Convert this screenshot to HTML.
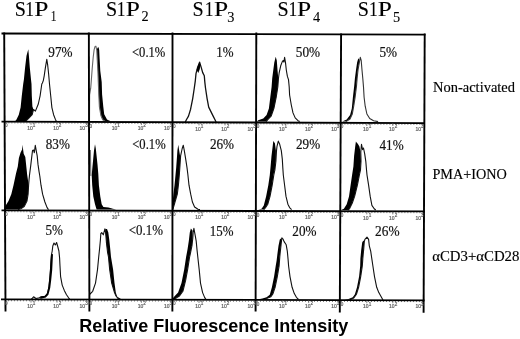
<!DOCTYPE html>
<html><head><meta charset="utf-8"><style>
html,body{margin:0;padding:0;background:#fff;}
svg{display:block;filter:grayscale(1);}
.g{font-family:"Liberation Serif",serif;fill:#000;stroke:#000;stroke-width:0.12px;}
.pc{font-family:"Liberation Serif",serif;fill:#111;stroke:#111;stroke-width:0.2px;}
.rl{font-family:"Liberation Serif",serif;font-size:14px;fill:#000;stroke:#000;stroke-width:0.15px;}
.tt{font-family:"Liberation Sans",sans-serif;font-weight:bold;font-size:18.2px;fill:#000;}
.tk{font-family:"Liberation Sans",sans-serif;font-size:5px;fill:#555;stroke:#666;stroke-width:0.2px;}
</style></head><body>
<svg width="520" height="339" viewBox="0 0 520 339">
<polygon points="14.7,121.7 16.5,119.4 18.8,114.7 20.6,107.6 21.8,95.8 23.2,84.0 23.9,79.4 25.1,67.6 26.5,55.8 28.3,49.3 28.9,55.8 29.8,67.6 31.0,79.4 31.5,84.0 31.8,95.8 32.4,106.4 33.5,109.5 32.2,114.7 28.9,118.2 26.5,120.6 25.3,121.7" fill="#000"/>
<polygon points="25.3,121.7 28.9,118.2 32.2,114.7 33.5,109.5 35.4,111.1 38.3,104.0 40.1,95.8 41.8,84.0 42.4,83.0 43.3,80.6 44.2,75.8 45.4,67.6 46.8,59.3 47.7,65.2 48.7,74.7 49.5,84.0 50.7,95.8 51.9,107.6 53.6,114.7 55.4,119.4 56.6,121.7" fill="#fff" stroke="none"/>
<polyline points="25.3,121.7 28.9,118.2 32.2,114.7 33.5,109.5 35.4,111.1 38.3,104.0 40.1,95.8 41.8,84.0 42.4,83.0 43.3,80.6 44.2,75.8 45.4,67.6 46.8,59.3 47.7,65.2 48.7,74.7 49.5,84.0 50.7,95.8 51.9,107.6 53.6,114.7 55.4,119.4 56.6,121.7" fill="none" stroke="#111" stroke-width="1.1" stroke-linejoin="round"/>
<polygon points="96.5,50.0 97.8,47.4 98.6,47.2 99.2,50.0 99.6,58.6 100.3,71.0 101.7,82.0 102.1,94.4 103.3,106.8 104.2,114.2 107.0,119.4 109.0,120.6 111.0,121.3 100.0,121.3 97.0,110.0 96.5,60.0" fill="#000"/>
<polygon points="89.5,121.3 89.6,95.0 90.7,88.2 91.2,82.0 92.2,68.5 93.2,57.3 94.1,49.9 94.9,46.8 95.9,46.2 96.8,50.5 97.2,58.6 97.9,71.0 98.3,82.0 98.8,94.4 99.4,106.8 100.9,115.5 102.7,119.8 105.0,121.3" fill="#fff" stroke="none"/>
<polyline points="89.5,121.3 89.6,95.0 90.7,88.2 91.2,82.0 92.2,68.5 93.2,57.3 94.1,49.9 94.9,46.8 95.9,46.2 96.8,50.5 97.2,58.6 97.9,71.0 98.3,82.0 98.8,94.4 99.4,106.8 100.9,115.5 102.7,119.8 105.0,121.3" fill="none" stroke="#666" stroke-width="1.1" stroke-linejoin="round"/>
<polygon points="185.3,122.0 186.4,119.8 188.5,116.1 190.6,109.2 192.7,98.6 194.3,88.0 195.3,80.8 196.0,73.6 197.6,67.4 199.6,62.2 201.2,67.4 202.7,72.6 204.3,75.7 204.8,81.9 205.5,88.0 207.1,98.6 208.7,107.1 210.8,111.4 212.9,115.6 215.0,119.8 216.1,122.0" fill="#fff" stroke="none"/>
<polyline points="185.3,122.0 186.4,119.8 188.5,116.1 190.6,109.2 192.7,98.6 194.3,88.0 195.3,80.8 196.0,73.6 197.6,67.4 199.6,62.2 201.2,67.4 202.7,72.6 204.3,75.7 204.8,81.9 205.5,88.0 207.1,98.6 208.7,107.1 210.8,111.4 212.9,115.6 215.0,119.8 216.1,122.0" fill="none" stroke="#111" stroke-width="1.3" stroke-linejoin="round"/>
<polygon points="196.6,70.0 197.8,66.0 199.4,62.5 200.4,64.5 199.8,69.0 198.3,73.0" fill="#000"/>
<polygon points="256.6,121.6 258.2,120.2 263.3,118.5 266.6,115.1 268.9,108.4 270.3,97.2 271.6,87.0 272.2,78.5 273.3,70.0 274.3,62.6 275.7,56.8 276.8,60.5 277.5,70.0 278.3,78.5 278.6,87.0 278.0,95.0 276.5,100.0 274.0,110.0 270.0,118.0 266.0,121.6" fill="#000"/>
<polygon points="266.1,121.6 267.8,119.6 271.1,116.2 273.9,108.4 276.2,97.2 277.8,87.0 278.5,78.0 279.1,73.2 280.7,65.8 282.3,61.6 283.1,60.5 283.9,62.1 284.6,57.3 285.5,62.6 286.3,70.0 287.4,76.4 288.5,79.6 288.9,83.8 289.2,87.0 289.6,95.0 291.3,105.0 293.0,112.9 295.2,117.9 298.0,120.7 299.7,121.6" fill="#fff" stroke="none"/>
<polyline points="266.1,121.6 267.8,119.6 271.1,116.2 273.9,108.4 276.2,97.2 277.8,87.0 278.5,78.0 279.1,73.2 280.7,65.8 282.3,61.6 283.1,60.5 283.9,62.1 284.6,57.3 285.5,62.6 286.3,70.0 287.4,76.4 288.5,79.6 288.9,83.8 289.2,87.0 289.6,95.0 291.3,105.0 293.0,112.9 295.2,117.9 298.0,120.7 299.7,121.6" fill="none" stroke="#111" stroke-width="1.1" stroke-linejoin="round"/>
<polygon points="342.2,121.6 346.7,119.6 350.1,115.1 351.8,108.4 352.9,97.2 354.2,86.0 354.9,78.5 356.0,70.0 357.1,62.6 358.3,58.2 359.5,60.0 359.3,62.6 358.0,70.0 357.1,78.5 356.5,86.0 355.1,97.2 353.7,106.2 352.3,114.0 350.0,119.0 346.0,121.6" fill="#000"/>
<polygon points="346.0,121.6 350.0,119.0 352.3,114.0 353.7,106.2 355.1,97.2 356.5,86.0 357.1,78.5 358.0,70.0 359.3,62.6 360.3,57.3 361.2,60.5 362.0,70.0 362.8,78.5 363.5,87.0 364.1,97.2 365.2,106.2 366.9,114.0 369.7,118.5 373.6,120.7 378.1,121.6" fill="#fff" stroke="none"/>
<polyline points="346.0,121.6 350.0,119.0 352.3,114.0 353.7,106.2 355.1,97.2 356.5,86.0 357.1,78.5 358.0,70.0 359.3,62.6 360.3,57.3 361.2,60.5 362.0,70.0 362.8,78.5 363.5,87.0 364.1,97.2 365.2,106.2 366.9,114.0 369.7,118.5 373.6,120.7 378.1,121.6" fill="none" stroke="#333" stroke-width="1.1" stroke-linejoin="round"/>
<polygon points="4.6,209.6 4.6,207.6 5.7,205.4 8.5,200.9 11.3,194.2 13.5,185.2 16.0,173.5 17.8,166.6 18.9,158.1 20.5,152.8 22.1,149.6 22.6,144.8 23.1,149.6 23.7,153.8 25.3,157.0 26.3,166.6 27.2,175.0 28.4,183.0 28.6,185.2 28.1,194.2 27.0,200.9 24.2,206.5 20.8,208.7 18.0,209.6" fill="#000"/>
<polygon points="18.0,209.6 20.8,208.7 24.2,206.5 27.0,200.9 28.1,194.2 28.6,185.2 29.0,180.0 29.5,175.1 30.6,166.6 31.6,158.1 32.5,150.6 33.5,150.1 34.3,152.8 35.3,145.3 36.4,151.7 37.2,155.9 38.0,164.4 39.1,171.9 39.8,176.0 41.0,185.2 42.6,194.2 44.9,202.0 47.1,207.6 48.5,209.6" fill="#fff" stroke="none"/>
<polyline points="18.0,209.6 20.8,208.7 24.2,206.5 27.0,200.9 28.1,194.2 28.6,185.2 29.0,180.0 29.5,175.1 30.6,166.6 31.6,158.1 32.5,150.6 33.5,150.1 34.3,152.8 35.3,145.3 36.4,151.7 37.2,155.9 38.0,164.4 39.1,171.9 39.8,176.0 41.0,185.2 42.6,194.2 44.9,202.0 47.1,207.6 48.5,209.6" fill="none" stroke="#111" stroke-width="1.1" stroke-linejoin="round"/>
<polygon points="96.6,209.6 95.0,204.2 93.3,196.4 92.2,185.2 91.7,175.0 92.4,167.6 93.2,159.1 94.0,150.6 95.0,144.3 95.8,148.5 96.6,155.9 97.5,164.4 98.3,174.0 98.9,185.2 100.3,196.4 101.7,204.2 103.4,207.0 108.4,207.6 112.9,208.7 116.2,209.6" fill="#000"/>
<polyline points="90.4,150.0 90.6,165.0 90.9,176.0" fill="none" stroke="#777" stroke-width="1.2"/>
<polygon points="172.5,209.6 172.5,203.1 173.4,194.2 174.5,185.2 175.5,175.0 176.2,167.6 176.9,158.1 177.4,150.6 178.3,144.8 179.0,149.6 180.1,155.9 180.6,161.3 180.1,167.6 179.6,175.0 178.4,185.2 177.3,194.2 175.0,202.0 173.4,207.6" fill="#000"/>
<polygon points="173.0,209.6 173.4,207.6 175.0,202.0 177.3,194.2 178.4,185.2 179.3,175.0 180.0,165.0 180.6,155.9 182.2,148.5 183.3,145.3 184.3,150.6 185.7,159.1 187.0,167.6 187.8,174.0 189.0,185.2 190.7,194.2 192.4,202.0 194.6,207.0 198.0,209.3 200.0,209.6" fill="#fff" stroke="none"/>
<polyline points="173.0,209.6 173.4,207.6 175.0,202.0 177.3,194.2 178.4,185.2 179.3,175.0 180.0,165.0 180.6,155.9 182.2,148.5 183.3,145.3 184.3,150.6 185.7,159.1 187.0,167.6 187.8,174.0 189.0,185.2 190.7,194.2 192.4,202.0 194.6,207.0 198.0,209.3 200.0,209.6" fill="none" stroke="#111" stroke-width="1.1" stroke-linejoin="round"/>
<polygon points="258.2,209.6 261.6,208.7 263.8,205.4 266.1,196.4 268.3,185.2 269.8,175.0 270.6,166.6 271.5,155.9 272.8,145.3 273.3,141.1 274.9,143.2 275.9,150.6 275.9,161.3 274.9,169.8 273.7,174.0 272.2,185.2 270.0,196.4 267.8,204.2 265.5,207.6 263.8,209.6" fill="#000"/>
<polygon points="263.8,209.6 265.5,207.6 267.8,204.2 270.0,196.4 272.2,185.2 273.8,175.0 274.9,169.8 275.9,161.3 276.5,150.6 277.0,146.4 278.3,141.1 279.7,144.3 281.3,150.6 282.3,159.1 282.8,167.6 283.3,175.0 284.6,185.2 286.0,196.4 287.9,204.2 289.6,207.6 291.6,209.6" fill="#fff" stroke="none"/>
<polyline points="263.8,209.6 265.5,207.6 267.8,204.2 270.0,196.4 272.2,185.2 273.8,175.0 274.9,169.8 275.9,161.3 276.5,150.6 277.0,146.4 278.3,141.1 279.7,144.3 281.3,150.6 282.3,159.1 282.8,167.6 283.3,175.0 284.6,185.2 286.0,196.4 287.9,204.2 289.6,207.6 291.6,209.6" fill="none" stroke="#111" stroke-width="1.1" stroke-linejoin="round"/>
<polygon points="341.1,210.0 343.9,208.7 346.7,204.2 349.0,196.4 350.6,185.2 352.1,175.0 353.4,166.6 354.1,155.9 355.2,146.4 355.9,141.6 357.0,143.0 357.8,143.7 359.4,146.4 360.5,151.7 361.0,161.3 360.5,169.8 359.5,174.5 357.4,185.2 354.6,196.4 352.3,203.1 349.5,208.7 347.8,210.0" fill="#000"/>
<polygon points="347.8,210.0 349.5,208.7 352.3,203.1 354.6,196.4 357.4,185.2 359.5,174.5 360.5,169.8 361.0,161.3 360.8,152.0 361.5,144.3 362.6,149.6 363.5,148.0 364.7,153.8 365.8,161.3 366.5,169.8 367.0,175.0 368.6,185.2 370.2,196.4 371.9,205.4 374.2,208.7 375.8,210.0" fill="#fff" stroke="none"/>
<polyline points="347.8,210.0 349.5,208.7 352.3,203.1 354.6,196.4 357.4,185.2 359.5,174.5 360.5,169.8 361.0,161.3 360.8,152.0 361.5,144.3 362.6,149.6 363.5,148.0 364.7,153.8 365.8,161.3 366.5,169.8 367.0,175.0 368.6,185.2 370.2,196.4 371.9,205.4 374.2,208.7 375.8,210.0" fill="none" stroke="#111" stroke-width="1.1" stroke-linejoin="round"/>
<polygon points="31.0,299.6 33.6,296.8 36.0,298.5 39.4,297.8 41.0,296.8 45.2,296.3 47.4,293.6 48.9,287.2 50.0,276.6 50.7,266.0 51.0,261.0 51.5,254.5 52.2,251.0 52.8,246.0 54.0,243.0 55.3,245.0 56.6,242.5 57.6,246.0 58.9,251.0 59.6,258.0 60.0,266.0 60.6,276.6 62.2,285.1 64.3,290.4 66.5,294.7 68.6,297.8 70.0,299.6" fill="#fff" stroke="none"/>
<polyline points="31.0,299.6 33.6,296.8 36.0,298.5 39.4,297.8 41.0,296.8 45.2,296.3 47.4,293.6 48.9,287.2 50.0,276.6 50.7,266.0 51.0,261.0 51.5,254.5 52.2,251.0 52.8,246.0 54.0,243.0 55.3,245.0 56.6,242.5 57.6,246.0 58.9,251.0 59.6,258.0 60.0,266.0 60.6,276.6 62.2,285.1 64.3,290.4 66.5,294.7 68.6,297.8 70.0,299.6" fill="none" stroke="#111" stroke-width="1.1" stroke-linejoin="round"/>
<polygon points="50.0,270.0 50.6,260.0 51.0,254.5 53.0,254.0 52.6,262.0 52.2,270.0 51.2,280.0 50.2,288.0 48.4,294.8 45.8,297.4 41.0,298.8 39.6,298.2 41.0,296.4 45.0,295.8 47.0,293.2 48.4,287.0 49.4,277.0" fill="#000"/>
<polygon points="104.5,232.0 105.5,229.0 107.0,228.9 108.3,232.6 109.3,240.0 110.2,248.6 111.0,257.0 113.1,269.6 114.5,283.1 115.8,292.6 117.2,296.7 120.6,298.7 122.0,299.7 115.0,299.7 110.0,290.0 107.0,260.0 105.5,240.0" fill="#000"/>
<polygon points="89.5,299.7 89.5,295.0 90.0,294.0 92.7,291.3 95.5,283.1 97.5,269.6 98.7,257.0 99.6,248.6 100.4,240.0 100.8,233.7 101.7,232.6 103.3,234.8 104.9,228.9 105.5,232.0 105.9,235.8 106.5,243.3 107.5,251.8 108.5,257.0 109.7,269.6 111.7,283.1 114.5,292.6 116.0,296.0 118.0,298.5 119.0,299.7" fill="#fff" stroke="none"/>
<polyline points="89.5,299.7 89.5,295.0 90.0,294.0 92.7,291.3 95.5,283.1 97.5,269.6 98.7,257.0 99.6,248.6 100.4,240.0 100.8,233.7 101.7,232.6 103.3,234.8 104.9,228.9 105.5,232.0 105.9,235.8 106.5,243.3 107.5,251.8 108.5,257.0 109.7,269.6 111.7,283.1 114.5,292.6 116.0,296.0 118.0,298.5 119.0,299.7" fill="none" stroke="#111" stroke-width="1.1" stroke-linejoin="round"/>
<polygon points="172.4,299.6 172.4,298.7 174.1,296.7 178.1,292.6 181.5,283.1 184.2,269.6 186.1,257.0 187.5,249.6 188.8,241.1 189.8,232.6 190.9,228.4 192.5,230.5 192.8,238.0 192.0,245.4 190.3,253.9 189.6,257.0 187.6,269.6 185.6,280.4 182.9,291.3 179.5,296.0 176.1,298.0 175.0,299.6" fill="#000"/>
<polygon points="175.0,299.6 176.1,298.0 179.5,296.0 182.9,291.3 185.6,280.4 187.6,269.6 189.6,257.0 190.3,253.9 192.0,245.4 192.8,238.0 193.2,232.0 193.9,228.4 195.1,234.8 196.2,241.1 197.0,249.6 197.8,257.0 199.2,269.6 200.5,283.1 202.6,292.6 204.6,297.4 206.0,299.6" fill="#fff" stroke="none"/>
<polyline points="175.0,299.6 176.1,298.0 179.5,296.0 182.9,291.3 185.6,280.4 187.6,269.6 189.6,257.0 190.3,253.9 192.0,245.4 192.8,238.0 193.2,232.0 193.9,228.4 195.1,234.8 196.2,241.1 197.0,249.6 197.8,257.0 199.2,269.6 200.5,283.1 202.6,292.6 204.6,297.4 206.0,299.6" fill="none" stroke="#111" stroke-width="1.1" stroke-linejoin="round"/>
<polygon points="257.6,299.6 262.4,298.4 266.6,297.3 269.8,294.7 271.9,287.3 274.1,276.6 275.7,266.0 276.6,260.7 277.5,253.3 278.5,245.8 279.8,239.4 281.9,237.8 281.4,241.6 280.7,248.0 279.8,256.4 279.1,266.0 277.3,276.6 275.1,287.3 273.0,293.6 270.9,296.8 267.7,298.1 265.0,299.6" fill="#000"/>
<polygon points="265.0,299.6 267.7,298.1 270.9,296.8 273.0,293.6 275.1,287.3 277.3,276.6 279.1,266.0 279.8,256.4 280.7,248.0 281.4,241.6 281.9,237.8 283.0,239.0 284.1,241.6 286.2,244.8 287.3,251.1 288.1,259.6 288.6,266.0 290.0,276.6 292.1,287.3 294.3,293.6 296.4,297.3 298.5,299.4" fill="#fff" stroke="none"/>
<polyline points="265.0,299.6 267.7,298.1 270.9,296.8 273.0,293.6 275.1,287.3 277.3,276.6 279.1,266.0 279.8,256.4 280.7,248.0 281.4,241.6 281.9,237.8 283.0,239.0 284.1,241.6 286.2,244.8 287.3,251.1 288.1,259.6 288.6,266.0 290.0,276.6 292.1,287.3 294.3,293.6 296.4,297.3 298.5,299.4" fill="none" stroke="#111" stroke-width="1.1" stroke-linejoin="round"/>
<polygon points="344.3,299.8 348.5,298.9 352.8,297.3 354.9,294.2 357.0,287.3 359.1,276.6 360.2,266.0 360.4,258.6 361.2,250.1 362.2,242.6 363.3,240.5 364.3,241.6 363.6,250.1 362.8,258.6 362.3,266.0 360.7,276.6 358.6,287.3 356.5,294.2 353.8,297.9 350.0,299.8" fill="#000"/>
<polygon points="350.0,299.8 353.8,297.9 356.5,294.2 358.6,287.3 360.7,276.6 362.3,266.0 362.8,258.6 363.6,250.1 364.3,241.6 364.9,239.4 367.0,237.1 368.6,239.4 369.3,245.8 370.7,251.1 371.8,258.6 372.9,266.0 374.5,276.6 376.7,287.3 378.8,292.6 380.9,296.3 383.0,300.0" fill="#fff" stroke="none"/>
<polyline points="350.0,299.8 353.8,297.9 356.5,294.2 358.6,287.3 360.7,276.6 362.3,266.0 362.8,258.6 363.6,250.1 364.3,241.6 364.9,239.4 367.0,237.1 368.6,239.4 369.3,245.8 370.7,251.1 371.8,258.6 372.9,266.0 374.5,276.6 376.7,287.3 378.8,292.6 380.9,296.3 383.0,300.0" fill="none" stroke="#111" stroke-width="1.1" stroke-linejoin="round"/>
<line x1="5.5" y1="122.89999999999999" x2="425" y2="124.39999999999999" stroke="#555" stroke-width="1" stroke-dasharray="0.8 2.2"/>
<line x1="5.5" y1="211.70000000000002" x2="425" y2="212.70000000000002" stroke="#555" stroke-width="1" stroke-dasharray="0.8 2.2"/>
<line x1="5.0" y1="300.7" x2="424.5" y2="301.6" stroke="#555" stroke-width="1" stroke-dasharray="0.8 2.2"/>
<line x1="1.5" y1="33.5" x2="425.5" y2="34.6" stroke="#000" stroke-width="1.8"/>
<line x1="1.5" y1="121.6" x2="425" y2="123.1" stroke="#000" stroke-width="1.8"/>
<line x1="1.5" y1="210.4" x2="425" y2="211.4" stroke="#000" stroke-width="1.8"/>
<line x1="1.0" y1="299.4" x2="424.5" y2="300.3" stroke="#000" stroke-width="1.8"/>
<line x1="4.2" y1="32.6" x2="5.5" y2="311.5" stroke="#000" stroke-width="1.9"/>
<line x1="88.85" y1="32.6" x2="89.4" y2="311.5" stroke="#000" stroke-width="1.9"/>
<line x1="172.5" y1="32.6" x2="172.4" y2="311.5" stroke="#000" stroke-width="1.9"/>
<line x1="256.3" y1="32.6" x2="255.6" y2="311.5" stroke="#000" stroke-width="1.9"/>
<line x1="341.1" y1="33.6" x2="339.8" y2="312.5" stroke="#000" stroke-width="1.9"/>
<line x1="424.7" y1="33.6" x2="423.6" y2="312.8" stroke="#000" stroke-width="1.9"/>
<text x="5.0" y="127.2" class="tk" style="font-size:4.6px">0</text>
<line x1="31.0" y1="122.1" x2="31.0" y2="124.8" stroke="#666" stroke-width="0.8"/>
<text x="27.3" y="129.9" class="tk">10<tspan dy="-2.9" style="font-size:4.6px">1</tspan></text>
<line x1="57.0" y1="122.1" x2="57.0" y2="124.8" stroke="#666" stroke-width="0.8"/>
<text x="53.3" y="129.9" class="tk">10<tspan dy="-2.9" style="font-size:4.6px">2</tspan></text>
<text x="79.6" y="129.9" class="tk">10<tspan dy="-2.9" style="font-size:4.6px">3</tspan></text>
<text x="89.4" y="127.5" class="tk" style="font-size:4.6px">0</text>
<line x1="115.4" y1="122.4" x2="115.4" y2="125.1" stroke="#666" stroke-width="0.8"/>
<text x="111.7" y="130.2" class="tk">10<tspan dy="-2.9" style="font-size:4.6px">1</tspan></text>
<line x1="141.4" y1="122.4" x2="141.4" y2="125.1" stroke="#666" stroke-width="0.8"/>
<text x="137.7" y="130.2" class="tk">10<tspan dy="-2.9" style="font-size:4.6px">2</tspan></text>
<text x="164.0" y="130.2" class="tk">10<tspan dy="-2.9" style="font-size:4.6px">3</tspan></text>
<text x="173.0" y="127.8" class="tk" style="font-size:4.6px">0</text>
<line x1="199.0" y1="122.7" x2="199.0" y2="125.4" stroke="#666" stroke-width="0.8"/>
<text x="195.3" y="130.5" class="tk">10<tspan dy="-2.9" style="font-size:4.6px">1</tspan></text>
<line x1="225.0" y1="122.7" x2="225.0" y2="125.4" stroke="#666" stroke-width="0.8"/>
<text x="221.3" y="130.5" class="tk">10<tspan dy="-2.9" style="font-size:4.6px">2</tspan></text>
<text x="247.6" y="130.5" class="tk">10<tspan dy="-2.9" style="font-size:4.6px">3</tspan></text>
<text x="256.7" y="128.1" class="tk" style="font-size:4.6px">0</text>
<line x1="282.7" y1="123.0" x2="282.7" y2="125.7" stroke="#666" stroke-width="0.8"/>
<text x="279.0" y="130.8" class="tk">10<tspan dy="-2.9" style="font-size:4.6px">1</tspan></text>
<line x1="308.7" y1="123.0" x2="308.7" y2="125.7" stroke="#666" stroke-width="0.8"/>
<text x="305.0" y="130.8" class="tk">10<tspan dy="-2.9" style="font-size:4.6px">2</tspan></text>
<text x="331.3" y="130.8" class="tk">10<tspan dy="-2.9" style="font-size:4.6px">3</tspan></text>
<text x="340.8" y="128.4" class="tk" style="font-size:4.6px">0</text>
<line x1="366.8" y1="123.3" x2="366.8" y2="126.0" stroke="#666" stroke-width="0.8"/>
<text x="363.1" y="131.1" class="tk">10<tspan dy="-2.9" style="font-size:4.6px">1</tspan></text>
<line x1="392.8" y1="123.3" x2="392.8" y2="126.0" stroke="#666" stroke-width="0.8"/>
<text x="389.1" y="131.1" class="tk">10<tspan dy="-2.9" style="font-size:4.6px">2</tspan></text>
<text x="415.4" y="131.1" class="tk">10<tspan dy="-2.9" style="font-size:4.6px">3</tspan></text>
<text x="5.0" y="216.0" class="tk" style="font-size:4.6px">0</text>
<line x1="31.0" y1="210.9" x2="31.0" y2="213.6" stroke="#666" stroke-width="0.8"/>
<text x="27.3" y="218.7" class="tk">10<tspan dy="-2.9" style="font-size:4.6px">1</tspan></text>
<line x1="57.0" y1="210.9" x2="57.0" y2="213.6" stroke="#666" stroke-width="0.8"/>
<text x="53.3" y="218.7" class="tk">10<tspan dy="-2.9" style="font-size:4.6px">2</tspan></text>
<text x="79.6" y="218.7" class="tk">10<tspan dy="-2.9" style="font-size:4.6px">3</tspan></text>
<text x="89.4" y="216.2" class="tk" style="font-size:4.6px">0</text>
<line x1="115.4" y1="211.1" x2="115.4" y2="213.8" stroke="#666" stroke-width="0.8"/>
<text x="111.7" y="218.9" class="tk">10<tspan dy="-2.9" style="font-size:4.6px">1</tspan></text>
<line x1="141.4" y1="211.1" x2="141.4" y2="213.8" stroke="#666" stroke-width="0.8"/>
<text x="137.7" y="218.9" class="tk">10<tspan dy="-2.9" style="font-size:4.6px">2</tspan></text>
<text x="164.0" y="218.9" class="tk">10<tspan dy="-2.9" style="font-size:4.6px">3</tspan></text>
<text x="173.0" y="216.4" class="tk" style="font-size:4.6px">0</text>
<line x1="199.0" y1="211.3" x2="199.0" y2="214.0" stroke="#666" stroke-width="0.8"/>
<text x="195.3" y="219.1" class="tk">10<tspan dy="-2.9" style="font-size:4.6px">1</tspan></text>
<line x1="225.0" y1="211.3" x2="225.0" y2="214.0" stroke="#666" stroke-width="0.8"/>
<text x="221.3" y="219.1" class="tk">10<tspan dy="-2.9" style="font-size:4.6px">2</tspan></text>
<text x="247.6" y="219.1" class="tk">10<tspan dy="-2.9" style="font-size:4.6px">3</tspan></text>
<text x="256.7" y="216.6" class="tk" style="font-size:4.6px">0</text>
<line x1="282.7" y1="211.5" x2="282.7" y2="214.2" stroke="#666" stroke-width="0.8"/>
<text x="279.0" y="219.3" class="tk">10<tspan dy="-2.9" style="font-size:4.6px">1</tspan></text>
<line x1="308.7" y1="211.5" x2="308.7" y2="214.2" stroke="#666" stroke-width="0.8"/>
<text x="305.0" y="219.3" class="tk">10<tspan dy="-2.9" style="font-size:4.6px">2</tspan></text>
<text x="331.3" y="219.3" class="tk">10<tspan dy="-2.9" style="font-size:4.6px">3</tspan></text>
<text x="340.8" y="216.8" class="tk" style="font-size:4.6px">0</text>
<line x1="366.8" y1="211.7" x2="366.8" y2="214.4" stroke="#666" stroke-width="0.8"/>
<text x="363.1" y="219.5" class="tk">10<tspan dy="-2.9" style="font-size:4.6px">1</tspan></text>
<line x1="392.8" y1="211.7" x2="392.8" y2="214.4" stroke="#666" stroke-width="0.8"/>
<text x="389.1" y="219.5" class="tk">10<tspan dy="-2.9" style="font-size:4.6px">2</tspan></text>
<text x="415.4" y="219.5" class="tk">10<tspan dy="-2.9" style="font-size:4.6px">3</tspan></text>
<text x="5.0" y="305.0" class="tk" style="font-size:4.6px">0</text>
<line x1="31.0" y1="299.9" x2="31.0" y2="302.6" stroke="#666" stroke-width="0.8"/>
<text x="27.3" y="307.7" class="tk">10<tspan dy="-2.9" style="font-size:4.6px">1</tspan></text>
<line x1="57.0" y1="299.9" x2="57.0" y2="302.6" stroke="#666" stroke-width="0.8"/>
<text x="53.3" y="307.7" class="tk">10<tspan dy="-2.9" style="font-size:4.6px">2</tspan></text>
<text x="79.6" y="307.7" class="tk">10<tspan dy="-2.9" style="font-size:4.6px">3</tspan></text>
<text x="89.4" y="305.2" class="tk" style="font-size:4.6px">0</text>
<line x1="115.4" y1="300.1" x2="115.4" y2="302.8" stroke="#666" stroke-width="0.8"/>
<text x="111.7" y="307.9" class="tk">10<tspan dy="-2.9" style="font-size:4.6px">1</tspan></text>
<line x1="141.4" y1="300.1" x2="141.4" y2="302.8" stroke="#666" stroke-width="0.8"/>
<text x="137.7" y="307.9" class="tk">10<tspan dy="-2.9" style="font-size:4.6px">2</tspan></text>
<text x="164.0" y="307.9" class="tk">10<tspan dy="-2.9" style="font-size:4.6px">3</tspan></text>
<text x="173.0" y="305.4" class="tk" style="font-size:4.6px">0</text>
<line x1="199.0" y1="300.3" x2="199.0" y2="303.0" stroke="#666" stroke-width="0.8"/>
<text x="195.3" y="308.1" class="tk">10<tspan dy="-2.9" style="font-size:4.6px">1</tspan></text>
<line x1="225.0" y1="300.3" x2="225.0" y2="303.0" stroke="#666" stroke-width="0.8"/>
<text x="221.3" y="308.1" class="tk">10<tspan dy="-2.9" style="font-size:4.6px">2</tspan></text>
<text x="247.6" y="308.1" class="tk">10<tspan dy="-2.9" style="font-size:4.6px">3</tspan></text>
<text x="256.7" y="305.5" class="tk" style="font-size:4.6px">0</text>
<line x1="282.7" y1="300.4" x2="282.7" y2="303.1" stroke="#666" stroke-width="0.8"/>
<text x="279.0" y="308.2" class="tk">10<tspan dy="-2.9" style="font-size:4.6px">1</tspan></text>
<line x1="308.7" y1="300.4" x2="308.7" y2="303.1" stroke="#666" stroke-width="0.8"/>
<text x="305.0" y="308.2" class="tk">10<tspan dy="-2.9" style="font-size:4.6px">2</tspan></text>
<text x="331.3" y="308.2" class="tk">10<tspan dy="-2.9" style="font-size:4.6px">3</tspan></text>
<text x="340.8" y="305.7" class="tk" style="font-size:4.6px">0</text>
<line x1="366.8" y1="300.6" x2="366.8" y2="303.3" stroke="#666" stroke-width="0.8"/>
<text x="363.1" y="308.4" class="tk">10<tspan dy="-2.9" style="font-size:4.6px">1</tspan></text>
<line x1="392.8" y1="300.6" x2="392.8" y2="303.3" stroke="#666" stroke-width="0.8"/>
<text x="389.1" y="308.4" class="tk">10<tspan dy="-2.9" style="font-size:4.6px">2</tspan></text>
<text x="415.4" y="308.4" class="tk">10<tspan dy="-2.9" style="font-size:4.6px">3</tspan></text>
<text transform="translate(14.70,15.80) scale(0.936,1)" font-size="21.5" class="g">S</text>
<text transform="translate(25.15,15.80) scale(0.820,1)" font-size="21.5" class="g">1</text>
<text transform="translate(34.17,15.80) scale(1.184,1)" font-size="21.5" class="g">P</text>
<text transform="translate(50.75,20.90) scale(0.800,1)" font-size="14.2" class="g">1</text>
<text transform="translate(106.00,15.80) scale(0.936,1)" font-size="21.5" class="g">S</text>
<text transform="translate(116.75,15.80) scale(0.820,1)" font-size="21.5" class="g">1</text>
<text transform="translate(125.77,15.80) scale(1.184,1)" font-size="21.5" class="g">P</text>
<text transform="translate(141.46,21.30) scale(1.000,1)" font-size="14.3" class="g">2</text>
<text transform="translate(192.55,15.80) scale(0.936,1)" font-size="21.5" class="g">S</text>
<text transform="translate(204.75,15.80) scale(0.820,1)" font-size="21.5" class="g">1</text>
<text transform="translate(213.92,15.80) scale(1.184,1)" font-size="21.5" class="g">P</text>
<text transform="translate(227.26,21.80) scale(1.000,1)" font-size="14.3" class="g">3</text>
<text transform="translate(277.40,15.80) scale(0.936,1)" font-size="21.5" class="g">S</text>
<text transform="translate(288.40,15.80) scale(0.820,1)" font-size="21.5" class="g">1</text>
<text transform="translate(297.07,15.80) scale(1.184,1)" font-size="21.5" class="g">P</text>
<text transform="translate(312.95,21.80) scale(1.000,1)" font-size="14.3" class="g">4</text>
<text transform="translate(357.70,15.80) scale(0.936,1)" font-size="21.5" class="g">S</text>
<text transform="translate(369.05,15.80) scale(0.820,1)" font-size="21.5" class="g">1</text>
<text transform="translate(377.82,15.80) scale(1.184,1)" font-size="21.5" class="g">P</text>
<text transform="translate(392.99,22.20) scale(1.000,1)" font-size="14.3" class="g">5</text>
<text x="48.37" y="56.60" font-size="13.7" class="pc" textLength="24.18" lengthAdjust="spacingAndGlyphs">97%</text>
<text x="131.97" y="56.80" font-size="13.7" class="pc" textLength="33.36" lengthAdjust="spacingAndGlyphs">&lt;0.1%</text>
<text x="216.26" y="57.00" font-size="13.7" class="pc" textLength="17.28" lengthAdjust="spacingAndGlyphs">1%</text>
<text x="295.83" y="57.00" font-size="13.7" class="pc" textLength="24.32" lengthAdjust="spacingAndGlyphs">50%</text>
<text x="379.53" y="57.00" font-size="13.7" class="pc" textLength="17.62" lengthAdjust="spacingAndGlyphs">5%</text>
<text x="45.80" y="148.60" font-size="13.7" class="pc" textLength="24.05" lengthAdjust="spacingAndGlyphs">83%</text>
<text x="132.27" y="148.60" font-size="13.7" class="pc" textLength="33.36" lengthAdjust="spacingAndGlyphs">&lt;0.1%</text>
<text x="209.92" y="148.90" font-size="13.7" class="pc" textLength="24.13" lengthAdjust="spacingAndGlyphs">26%</text>
<text x="296.02" y="149.20" font-size="13.7" class="pc" textLength="24.13" lengthAdjust="spacingAndGlyphs">29%</text>
<text x="379.54" y="149.60" font-size="13.7" class="pc" textLength="24.11" lengthAdjust="spacingAndGlyphs">41%</text>
<text x="45.54" y="235.00" font-size="13.7" class="pc" textLength="17.40" lengthAdjust="spacingAndGlyphs">5%</text>
<text x="128.76" y="235.30" font-size="13.7" class="pc" textLength="34.18" lengthAdjust="spacingAndGlyphs">&lt;0.1%</text>
<text x="209.86" y="235.70" font-size="13.7" class="pc" textLength="23.68" lengthAdjust="spacingAndGlyphs">15%</text>
<text x="292.32" y="235.80" font-size="13.7" class="pc" textLength="24.13" lengthAdjust="spacingAndGlyphs">20%</text>
<text x="375.11" y="236.10" font-size="13.7" class="pc" textLength="24.44" lengthAdjust="spacingAndGlyphs">26%</text>
<text x="433.0" y="92.4" class="rl" textLength="82" lengthAdjust="spacingAndGlyphs">Non-activated</text>
<text x="432.4" y="179.3" class="rl" textLength="74.5" lengthAdjust="spacingAndGlyphs">PMA+IONO</text>
<text x="432.2" y="261.0" class="rl" textLength="87.2" lengthAdjust="spacingAndGlyphs">αCD3+αCD28</text>
<text x="79.2" y="332.3" class="tt" textLength="269" lengthAdjust="spacingAndGlyphs">Relative Fluorescence Intensity</text>
</svg>
</body></html>
